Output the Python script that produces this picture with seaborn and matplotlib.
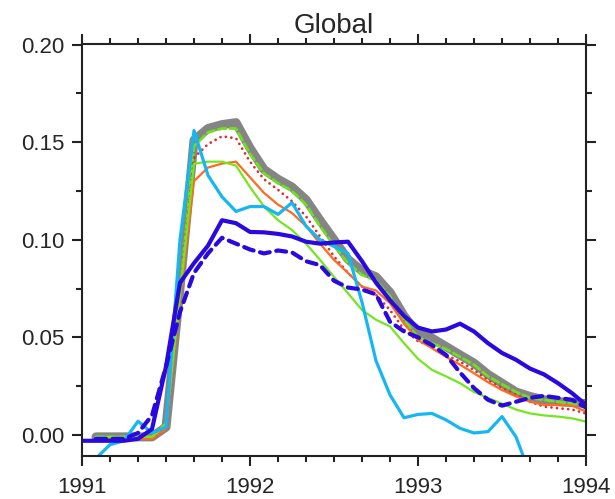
import numpy as np
import pandas as pd
import matplotlib
matplotlib.use('Agg')
import matplotlib.pyplot as plt
from matplotlib.ticker import MultipleLocator, FormatStrFormatter
import seaborn as sns

# Monthly values, month 0 = Jan 1991
months_all = list(range(0, 37))
months_from_feb = list(range(1, 37))
months_cyan = list(range(1, 33))

gray_band = [-0.001, -0.001, -0.001, -0.001, -0.001, 0.004, 0.075, 0.151, 0.157, 0.159,
             0.160, 0.147, 0.136, 0.131, 0.127, 0.1205, 0.110, 0.100, 0.090, 0.084,
             0.081, 0.073, 0.061, 0.052, 0.0496, 0.0453, 0.041, 0.0368, 0.031, 0.0265,
             0.022, 0.0197, 0.018, 0.017, 0.0166, 0.016]

green_dashed = [-0.001, -0.001, -0.001, -0.001, -0.001, 0.005, 0.072, 0.148, 0.155, 0.157,
                0.157, 0.144, 0.134, 0.129, 0.125, 0.118, 0.107, 0.097, 0.088, 0.082,
                0.079, 0.071, 0.059, 0.050, 0.047, 0.044, 0.040, 0.036, 0.030, 0.026,
                0.022, 0.019, 0.018, 0.017, 0.016, 0.015]

red_dotted = [-0.002, -0.002, -0.002, -0.002, -0.002, 0.003, 0.072, 0.142, 0.149, 0.153,
              0.152, 0.140, 0.131, 0.1256, 0.1197, 0.112, 0.1017, 0.0915, 0.083, 0.076,
              0.0718, 0.064, 0.054, 0.048, 0.0453, 0.041, 0.0376, 0.0333, 0.028, 0.024,
              0.0205, 0.017, 0.0145, 0.0137, 0.013, 0.011]

orange = [-0.002, -0.002, -0.002, -0.002, -0.002, 0.003, 0.070, 0.130, 0.137, 0.139,
          0.140, 0.132, 0.124, 0.118, 0.1137, 0.107, 0.098, 0.0897, 0.083, 0.076,
          0.074, 0.0675, 0.057, 0.0487, 0.0444, 0.040, 0.036, 0.0316, 0.027, 0.023,
          0.0197, 0.017, 0.0154, 0.0154, 0.015, 0.012]

green_solid = [-0.001, -0.001, -0.001, -0.001, -0.001, 0.006, 0.072, 0.139, 0.140, 0.140,
               0.138, 0.127, 0.117, 0.110, 0.105, 0.098, 0.0897, 0.081, 0.0726, 0.064,
               0.059, 0.0556, 0.047, 0.039, 0.0333, 0.030, 0.0265, 0.022, 0.019, 0.016,
               0.013, 0.011, 0.010, 0.0094, 0.0085, 0.0068]

cyan = [-0.012, -0.005, -0.003, 0.007, 0.001, 0.004, 0.100, 0.156, 0.133, 0.122,
        0.1145, 0.117, 0.117, 0.113, 0.119, 0.107, 0.100, 0.0966, 0.093, 0.068,
        0.038, 0.0205, 0.0088, 0.0105, 0.011, 0.0077, 0.0034, 0.001, 0.0017, 0.0094,
        -0.001, -0.02]

blue_solid = [-0.003, -0.003, -0.003, -0.003, -0.002, 0.003, 0.035, 0.078, 0.088, 0.097,
              0.110, 0.1085, 0.104, 0.1038, 0.103, 0.1017, 0.099, 0.098, 0.0986, 0.099,
              0.089, 0.078, 0.069, 0.061, 0.055, 0.053, 0.054, 0.057, 0.053, 0.047,
              0.042, 0.0385, 0.034, 0.031, 0.0265, 0.0214, 0.0154]

blue_dashed = [-0.002, -0.002, -0.002, 0.001, 0.010, 0.035, 0.063, 0.083, 0.093, 0.101,
               0.098, 0.095, 0.093, 0.0945, 0.0935, 0.089, 0.087, 0.079, 0.0755, 0.0745,
               0.072, 0.058, 0.053, 0.050, 0.046, 0.041, 0.032, 0.024, 0.018, 0.015,
               0.017, 0.019, 0.020, 0.019, 0.018, 0.014]

year_ticks = [1991, 1992, 1993, 1994]


def years(months):
    return [1991 + m / 12 for m in months]


sns.set_style('ticks')
plt.rcParams['font.family'] = ['Liberation Sans', 'DejaVu Sans']

fig = plt.figure(figsize=(6.15, 4.99), dpi=100)
ax = fig.add_axes([82 / 615, 1 - 456 / 499, 504 / 615, 412 / 499])

# (months, values, color, linewidth, linestyle)
series = [
    (months_from_feb, gray_band, '#858585', 6.5, '-'),
    (months_from_feb, green_dashed, '#6ee01e', 2.0, (0, (2.8, 1.4))),
    (months_from_feb, red_dotted, '#e8262a', 2.0, (0, (0.01, 2.0))),
    (months_from_feb, orange, '#ff6a22', 1.6, '-'),
    (months_from_feb, green_solid, '#74e620', 1.6, '-'),
    (months_cyan, cyan, '#16b6f2', 2.3, '-'),
    (months_all, blue_solid, '#2a08e0', 3.0, '-'),
    (months_from_feb, blue_dashed, '#2a08e0', 3.0, (0, (2.4, 1.6))),
]

for months, vals, color, lw, ls in series:
    sns.lineplot(x=years(months), y=vals, ax=ax, color=color, linewidth=lw,
                 linestyle=ls, estimator=None, sort=False,
                 solid_joinstyle='round', dash_capstyle='round' if ls != '-' else 'butt')

ax.set_xlim(1991, 1994)
ax.set_ylim(-0.0108, 0.2003)
ax.set_xticks(year_ticks)
ax.set_xticklabels([str(y) for y in year_ticks])
ax.xaxis.set_minor_locator(MultipleLocator(1 / 6))
ax.yaxis.set_major_locator(MultipleLocator(0.05))
ax.yaxis.set_minor_locator(MultipleLocator(0.025))
ax.yaxis.set_major_formatter(FormatStrFormatter('%.2f'))

for side in ['top', 'right', 'left', 'bottom']:
    ax.spines[side].set_visible(True)
    ax.spines[side].set_linewidth(1.5)
    ax.spines[side].set_color('#222222')

ax.tick_params(which='both', direction='out', top=True, right=True,
               color='#222222', width=1.5)
ax.tick_params(which='major', length=7.5, labelsize=16)
ax.tick_params(which='minor', length=4.5)
ax.tick_params(axis='x', which='major', pad=7.5)
ax.tick_params(axis='y', which='major', pad=5)

ax.set_xlabel('')
ax.set_ylabel('')
ax.set_title('Global', fontsize=20, pad=8)

fig.savefig('out.png', dpi=100)
